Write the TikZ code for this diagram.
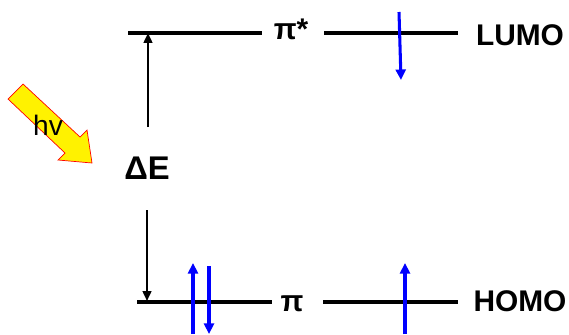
\documentclass[tikz,border=0pt]{standalone}
\usepackage{fontspec}
\setmainfont{Liberation Sans}
\usetikzlibrary{arrows.meta}
\tikzset{
  level/.style={line width=2.8pt},
  spin/.style={blue, line width=2.6pt, -{Triangle[width=8.5pt,length=9pt]}},
  gap/.style={line width=1.7pt, -{Triangle[width=7.5pt,length=8.5pt]}},
  lbl/.style={font=\bfseries\fontsize{25.5}{25.5}\selectfont, inner sep=0pt, anchor=base},
  photon/.style={draw=red, fill=yellow, line width=0.6pt},
}
\begin{document}
\begin{tikzpicture}[x=0.03cm,y=-0.03cm]
\useasboundingbox (0,0) rectangle (569,334);
\node[lbl] (pistar) at (291,39) {π*};
\node[lbl] (lumo) at (520,45) {LUMO};
\node[lbl] (pi) at (292,311) {π};
\node[lbl] (homo) at (520,311) {HOMO};
\node[lbl, font=\bfseries\fontsize{28}{28}\selectfont] (de) at (147,179) {ΔE};
\coordinate (l1) at (128,33);
\coordinate (l2) at (262,33);
\coordinate (l3) at (324,33);
\coordinate (l4) at (458,33);
\coordinate (h1) at (137,302);
\coordinate (h2) at (272,302);
\coordinate (h3) at (323,302);
\coordinate (h4) at (458,302);
\draw[level] (l1) -- (l2);
\draw[level] (l3) -- (l4);
\draw[level] (h1) -- (h2);
\draw[level] (h3) -- (h4);
\coordinate (up0) at (148,127);
\coordinate (up1) at (148,33);
\coordinate (dn0) at (147,210);
\coordinate (dn1) at (147,301);
\draw[gap] (up0) -- (up1);
\draw[gap] (dn0) -- (dn1);
\coordinate (e1) at (399,12);
\coordinate (e2) at (401,80);
\coordinate (e3) at (193,334);
\coordinate (e4) at (193,263);
\coordinate (e5) at (209,266);
\coordinate (e6) at (209,334);
\coordinate (e7) at (405,334);
\coordinate (e8) at (405,263);
\draw[spin] (e1) -- (e2);
\draw[spin] (e3) -- (e4);
\draw[spin] (e5) -- (e6);
\draw[spin] (e7) -- (e8);
\draw[photon] (8,99) -- (23,84) -- (80,137) -- (87,130) -- (92,163) -- (58,160) -- (65,153) -- cycle;
\node[anchor=base, inner sep=0pt, font=\fontsize{24}{24}\selectfont] (hv) at (48,135) {hv};
\end{tikzpicture}
\end{document}
